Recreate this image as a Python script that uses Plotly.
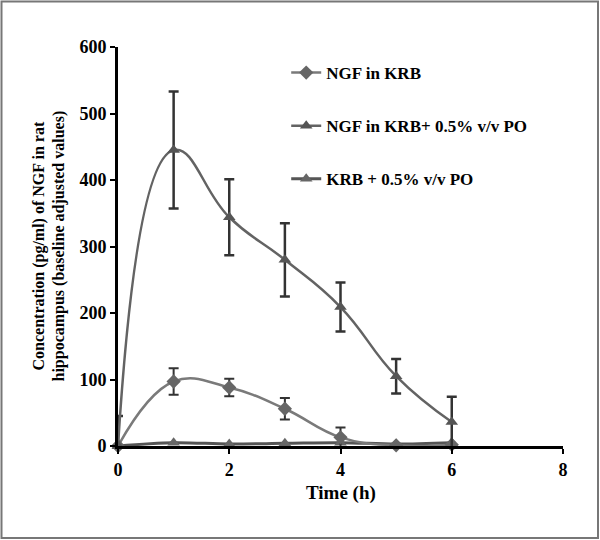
import plotly.graph_objects as go

time_h = [0, 1, 2, 3, 4, 5, 6]

ngf_krb = [0, 97, 88, 56, 13, 1, 2]
ngf_krb_err = [0, 20, 13, 16, 15, 0, 0]

ngf_krb_po = [0, 445, 344, 280, 209, 105, 36]
ngf_krb_po_err = [45, 88, 57, 55, 37, 26, 38]

krb_po = [0, 5, 3, 4, 5, 3, 5]
krb_po_err = [0, 0, 0, 0, 0, 0, 0]

names = ["NGF in KRB", "NGF in KRB+ 0.5% v/v PO", "KRB + 0.5% v/v PO"]
x_title = "Time (h)"
y_title = "Concentration (pg/ml) of NGF in rat<br>hippocampus (baseline adjusted values)"

FONT = "Liberation Serif"
L, R, T, B = 118, 37, 47, 94
PW, PH = 600 - L - R, 540 - T - B

fig = go.Figure()

fig.add_trace(go.Scatter(
    x=time_h, y=krb_po, name=names[2], mode="lines+markers",
    line=dict(color="#555555", width=3, shape="spline", smoothing=1.0),
    marker=dict(symbol="triangle-up", size=11, color="#666666"),
    error_y=dict(type="data", array=krb_po_err, visible=True, color="#333", thickness=2, width=4),
    cliponaxis=False, legendrank=3, legendgroup="c",
))
fig.add_trace(go.Scatter(
    x=time_h, y=ngf_krb, name=names[0], mode="lines+markers",
    line=dict(color="#7a7a7a", width=2.5, shape="spline", smoothing=1.2),
    marker=dict(symbol="diamond", size=11, color="#666666"),
    error_y=dict(type="data", array=ngf_krb_err, visible=True, color="#333", thickness=2, width=5),
    cliponaxis=False, legendrank=1, legendgroup="a",
))
fig.add_trace(go.Scatter(
    x=time_h, y=ngf_krb_po, name=names[1], mode="lines+markers",
    line=dict(color="#636363", width=2.5, shape="spline", smoothing=1.3),
    marker=dict(symbol="triangle-up", size=11, color="#555555"),
    error_y=dict(type="data", array=ngf_krb_po_err, visible=True, color="#333", thickness=2.5, width=5),
    cliponaxis=False, legendrank=2, legendgroup="b",
))

fig.update_layout(
    width=600, height=540,
    margin=dict(l=L, r=R, t=T, b=B, autoexpand=False),
    paper_bgcolor="white", plot_bgcolor="white",
    font=dict(family=FONT, color="black", size=16),
    showlegend=True,
    legend=dict(
        x=0.378, y=0.98, xanchor="left", yanchor="top",
        font=dict(family=FONT, size=17, color="black", weight="bold"),
        bgcolor="rgba(0,0,0,0)", tracegroupgap=28,
    ),
    xaxis=dict(
        range=[0, 8], tickvals=[0, 2, 4, 6, 8], ticks="outside", ticklen=5, tickwidth=2,
        tickcolor="black", showline=True, linecolor="black", linewidth=3,
        showgrid=False, zeroline=False, automargin=False,
        tickfont=dict(family=FONT, size=18, weight="bold"),
    ),
    yaxis=dict(
        range=[0, 600], tickvals=[0, 100, 200, 300, 400, 500, 600], ticks="outside",
        ticklen=5, tickwidth=2, tickcolor="black", showline=True, linecolor="black",
        linewidth=3, showgrid=False, zeroline=False, automargin=False,
        tickfont=dict(family=FONT, size=18, weight="bold"),
    ),
    annotations=[
        dict(text=x_title, xref="paper", yref="paper", x=0.5, y=-47 / PH,
             xanchor="center", yanchor="middle", showarrow=False,
             font=dict(family=FONT, size=19, weight="bold")),
        dict(text=y_title, xref="paper", yref="paper", x=-(L - 49) / PW, y=0.5,
             xanchor="center", yanchor="middle", showarrow=False, textangle=-90,
             font=dict(family=FONT, size=16, weight="bold")),
    ],
    shapes=[dict(type="rect", xref="paper", yref="paper",
                 x0=-(L - 1.5) / PW, x1=1 + (R - 2) / PW,
                 y0=-(B - 2) / PH, y1=1 + (T - 1.5) / PH,
                 line=dict(color="#777", width=2), fillcolor="rgba(0,0,0,0)")],
)

fig.write_html(
    "out.html",
    config={"displayModeBar": False},
    post_script="document.body.style.margin='0';document.body.style.overflow='hidden';",
)
